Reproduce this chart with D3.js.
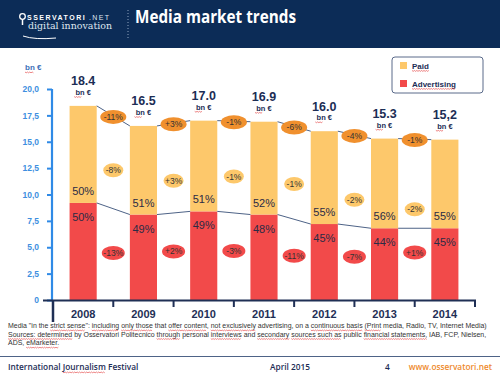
<!DOCTYPE html>
<html><head><meta charset="utf-8">
<script src="https://cdn.jsdelivr.net/npm/d3@7"></script>
<style>body{margin:0;background:#fff}svg{display:block}</style>
</head><body>
<svg id="c" width="500" height="374"></svg>
<script>
const years = ["2008","2009","2010","2011","2012","2013","2014"];
const advertising = [9.2, 8.1, 8.4, 8.1, 7.2, 6.8, 6.8];
const paid = [9.2, 8.4, 8.6, 8.8, 8.8, 8.5, 8.4];
const totalLabels = ["18.4","16.5","17.0","16.9","16.0","15.3","15,2"];
const paidShare = ["50%","51%","51%","52%","55%","56%","55%"];
const advShare = ["50%","49%","49%","48%","45%","44%","45%"];
const totalChange = ["-11%","+3%","-1%","-6%","-4%","-1%"];
const paidChange = ["-8%","+3%","-1%","-1%","-2%","-2%"];
const advChange = ["-13%","+2%","-3%","-11%","-7%","+1%"];
const yTicks = [0,2.5,5,7.5,10,12.5,15,17.5,20];
const yTickLabels = ["0","2,5","5,0","7,5","10,0","12,5","15,0","17,5","20,0"];
// layout: vertical anchor (axis units) of the in-between bubbles
const paidBubbleAt = [12.3, 11.3, 11.7, 11.0, 9.5, 8.6];
const advBubbleAt = [4.45, 4.6, 4.65, 4.2, 4.1, 4.5];

const svg = d3.select("#c");
const navy = "#0c2c57";
const cPaid = "#fdc86b", cAdv = "#f24a4a", cOrange = "#f0902e";
const F = "'Liberation Sans', Arial, sans-serif";

function squiggle(parent, x0, w, yy){
  let s=`M${x0},${yy}`; for(let j=1;j*1.2<=w;j++) s+=`L${x0+j*1.2},${yy+(j%2?0.8:0)}`;
  parent.append("path").attr("d",s).attr("fill","none").attr("stroke","#e03030").attr("stroke-width",0.6);
}

// header
svg.append("rect").attr("x",0).attr("y",0).attr("width",500).attr("height",48).attr("fill",navy);
svg.append("text").attr("x",135).attr("y",23).attr("fill","#fff")
  .attr("font-family","'Open Sans', sans-serif").attr("font-weight",700).attr("font-size",17)
  .attr("textLength",161).attr("lengthAdjust","spacingAndGlyphs").text("Media market trends");
// logo
const lg = svg.append("g");
lg.append("circle").attr("cx",22.5).attr("cy",16.5).attr("r",2.8).attr("fill","none").attr("stroke","#fff").attr("stroke-width",1.3);
lg.append("line").attr("x1",22.5).attr("x2",22.5).attr("y1",19.5).attr("y2",25).attr("stroke","#fff").attr("stroke-width",1.5);
lg.append("text").attr("x",27).attr("y",19.5).attr("fill","#fff").attr("font-family",F).attr("font-weight",700)
  .attr("font-size",7).attr("letter-spacing",1.5).text("SSERVATORI");
lg.append("text").attr("x",89).attr("y",19.5).attr("fill","#dfe6ef").attr("font-family",F)
  .attr("font-size",7).attr("letter-spacing",1.4).text(".NET");
lg.append("text").attr("x",28).attr("y",29).attr("fill","#dfe6ef").attr("font-family","'DejaVu Serif', serif")
  .attr("font-size",8.6).attr("textLength",84).attr("lengthAdjust","spacingAndGlyphs").text("digital innovation");
lg.append("path").attr("d","M23,36 Q35,40 56,38").attr("fill","none").attr("stroke","#fff").attr("stroke-width",1);
svg.append("line").attr("x1",128).attr("x2",128).attr("y1",10).attr("y2",40)
  .attr("stroke","#8fa3bf").attr("stroke-width",1).attr("stroke-dasharray","1,2");

// scales
const x = d3.scaleBand().domain(years).range([53,475]).paddingInner(0.55).paddingOuter(0.275);
const y = d3.scaleLinear().domain([0,20]).range([300,89]);
const step = x.step();
const totals = years.map((d,i)=>advertising[i]+paid[i]);

// y axis
const yAxis = d3.axisLeft(y).tickValues(yTicks).tickFormat((d,i)=>yTickLabels[i]).tickSize(5).tickPadding(8);
const ya = svg.append("g").attr("transform","translate(52,0)").call(yAxis);
ya.select(".domain").attr("stroke","#2f8ae6").attr("stroke-width",2.2).attr("d","M0,89V300");
ya.selectAll(".tick line").attr("stroke","#2f8ae6").attr("stroke-width",2);
ya.selectAll(".tick text").attr("fill","#3d8fe0").attr("font-family",F).attr("font-weight",700).attr("font-size",8.5);
svg.append("text").attr("x",25).attr("y",70).attr("fill","#3d6fb8").attr("font-family",F).attr("font-weight",700)
  .attr("font-size",8).text("bn €");
squiggle(svg, 25, 9, 72);

// bars
const g = svg.append("g");
g.selectAll(".adv").data(years).join("rect").attr("x",d=>x(d)).attr("width",x.bandwidth())
  .attr("y",(d,i)=>y(advertising[i])).attr("height",(d,i)=>y(0)-y(advertising[i])).attr("fill",cAdv);
g.selectAll(".paid").data(years).join("rect").attr("x",d=>x(d)).attr("width",x.bandwidth())
  .attr("y",(d,i)=>y(totals[i])).attr("height",(d,i)=>y(advertising[i])-y(totals[i])).attr("fill",cPaid);

// connectors
const pairs = d3.range(years.length-1);
function conn(vals){
  g.selectAll(null).data(pairs).join("line")
    .attr("x1",i=>x(years[i])+x.bandwidth()).attr("x2",i=>x(years[i+1]))
    .attr("y1",i=>y(vals[i])).attr("y2",i=>y(vals[i+1]))
    .attr("stroke","#4e6387").attr("stroke-width",1);
}
conn(totals); conn(advertising);

// x axis
svg.append("line").attr("x1",43).attr("x2",476).attr("y1",300.5).attr("y2",300.5).attr("stroke","#1f2f55").attr("stroke-width",2.2);
svg.selectAll(null).data(d3.range(years.length+1)).join("line")
  .attr("x1",i=>53+i*step).attr("x2",i=>53+i*step).attr("y1",300).attr("y2",i=>i===0?322:307)
  .attr("stroke","#1f2f55").attr("stroke-width",i=>i===0?2.5:2);
svg.selectAll(null).data(years).join("text").attr("x",d=>x(d)+x.bandwidth()/2).attr("y",318)
  .attr("text-anchor","middle").attr("fill","#1f2f55").attr("font-family",F).attr("font-weight",700).attr("font-size",11).text(d=>d);

// share labels
g.selectAll(null).data(years).join("text").attr("x",d=>x(d)+x.bandwidth()/2).attr("y",(d,i)=>y(advertising[i])-8)
  .attr("text-anchor","middle").attr("fill","#2b2b45").attr("font-family",F).attr("font-size",11).text((d,i)=>paidShare[i]);
g.selectAll(null).data(years).join("text").attr("x",d=>x(d)+x.bandwidth()/2).attr("y",(d,i)=>y(advertising[i])+18)
  .attr("text-anchor","middle").attr("fill","#2b2b45").attr("font-family",F).attr("font-size",11).text((d,i)=>advShare[i]);

// totals labels
g.selectAll(null).data(years).join("text").attr("x",d=>x(d)+x.bandwidth()/2).attr("y",(d,i)=>y(totals[i])-20.5)
  .attr("text-anchor","middle").attr("fill","#1c2d55").attr("font-family",F).attr("font-weight",700).attr("font-size",12.5).text((d,i)=>totalLabels[i]);
g.selectAll(null).data(years).join("text").attr("x",d=>x(d)+x.bandwidth()/2).attr("y",(d,i)=>y(totals[i])-11)
  .attr("text-anchor","middle").attr("fill","#1c2d55").attr("font-family",F).attr("font-weight",700).attr("font-size",7.5).text("bn €");
years.forEach((d,i)=>squiggle(g, x(d)+x.bandwidth()/2-9, 8, y(totals[i])-9.3));

// bubbles
function bubbles(labels, cyFn, rx, fill){
  const b = g.selectAll(null).data(pairs).join("g")
    .attr("transform",i=>`translate(${53+(i+1)*step},${cyFn(i)})`);
  b.append("ellipse").attr("rx",rx).attr("ry",7).attr("fill",fill);
  b.append("text").attr("y",3).attr("text-anchor","middle").attr("fill","#333").attr("font-family",F)
    .attr("font-size",8.5).text(i=>labels[i]);
}
bubbles(totalChange, i=>(y(totals[i])+y(totals[i+1]))/2+1, 13, cOrange);
bubbles(paidChange, i=>y(paidBubbleAt[i]), 10, cPaid);
bubbles(advChange, i=>y(advBubbleAt[i]), 11.5, cAdv);

// legend
const leg = svg.append("g");
leg.append("rect").attr("x",392).attr("y",57).attr("width",91).attr("height",36).attr("rx",3)
  .attr("fill","#fff").attr("stroke","#5a6a8a").attr("stroke-width",1);
[["Paid",cPaid,65.5],["Advertising",cAdv,83.5]].forEach(([t,c,cy])=>{
  leg.append("rect").attr("x",400).attr("y",cy-3.5).attr("width",7).attr("height",7).attr("fill",c);
  const tx = leg.append("text").attr("x",412).attr("y",cy+3).attr("fill","#1c2d55").attr("font-family",F).attr("font-weight",700)
    .attr("font-size",8).text(t);
  squiggle(leg, 412, tx.node().getComputedTextLength(), cy+5);
});

// footnote
const notes = [
 'Media "in the strict sense": including only those that offer content, not exclusively advertising, on a continuous basis (Print media, Radio, TV, Internet Media)',
 'Sources: determined by Osservatori Politecnico through personal interviews and secondary sources such as public financial statements, IAB, FCP, Nielsen,',
 'ADS, eMarketer.'];
const noteW = [479, 479, null];
const marks = [["strict sense","including","only those","offer content","not exclusively","continuous basis","(Print"],
  ["Sources: determined","through","interviews","secondary","sources such as","financial statements,"],["eMarketer."]];
let scaleX = 1;
notes.forEach((d,i)=>{
  const gg = svg.append("g");
  const t = gg.append("text").attr("x",0).attr("y",0).attr("fill","#333").attr("font-family",F).attr("font-size",7.3).text(d);
  const el = t.node();
  if(noteW[i]) scaleX = noteW[i]/el.getComputedTextLength();
  gg.attr("transform",`translate(8,${328+i*8.6}) scale(${scaleX},1)`);
  marks[i].forEach(w=>{
    const k=d.indexOf(w); if(k<0) return;
    squiggle(gg, el.getSubStringLength(0,k), el.getSubStringLength(k,w.length), 2);
  });
});

// footer
svg.append("line").attr("x1",0).attr("x2",500).attr("y1",356.5).attr("y2",356.5).attr("stroke","#4e6387").attr("stroke-width",1);
const ft = svg.append("g").attr("font-family","'Open Sans', sans-serif").attr("font-weight",600).attr("font-size",8.3);
const f1 = ft.append("text").attr("x",8).attr("y",370).attr("fill","#1c2d55").text("International Journalism Festival");
ft.append("text").attr("x",270).attr("y",370).attr("fill","#1c2d55").text("April 2015");
ft.append("text").attr("x",385).attr("y",370).attr("fill","#1c2d55").text("4");
ft.append("text").attr("x",492).attr("y",370).attr("text-anchor","end").attr("fill","#ee8a2c").text("www.osservatori.net");
{
  const n=f1.node(), s="International Journalism Festival", k=s.indexOf("Journalism");
  squiggle(svg, 8+n.getSubStringLength(0,k), n.getSubStringLength(k,10), 372);
}
</script>
</body></html>
